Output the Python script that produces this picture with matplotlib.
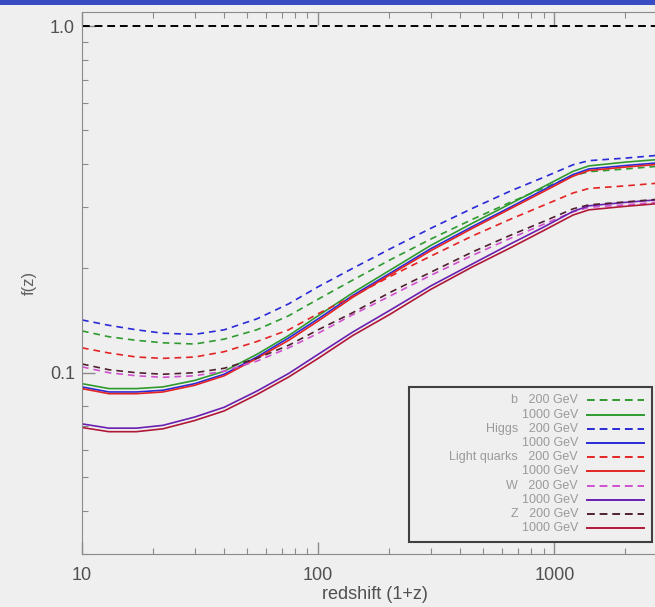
import numpy as np
import matplotlib
matplotlib.use("Agg")
import matplotlib.pyplot as plt
from matplotlib.patches import Rectangle
from matplotlib.ticker import NullFormatter, FixedLocator, LogLocator

plt.rcParams['font.family'] = ['Liberation Sans', 'DejaVu Sans']

# redshift (1+z) nodes
z = [10, 13, 17, 22, 30, 40, 55, 75, 100, 140, 200, 300, 450, 650, 900, 1200, 1400, 2000, 3000]

# f(z)
b200 = [0.132, 0.127, 0.124, 0.122, 0.121, 0.125, 0.133, 0.146, 0.163, 0.185, 0.211, 0.243, 0.277, 0.310, 0.341, 0.370, 0.380, 0.387, 0.396]
b1000 = [0.093, 0.090, 0.090, 0.091, 0.095, 0.101, 0.113, 0.128, 0.146, 0.170, 0.197, 0.233, 0.270, 0.307, 0.344, 0.381, 0.395, 0.405, 0.414]
higgs200 = [0.142, 0.137, 0.133, 0.130, 0.129, 0.133, 0.143, 0.158, 0.177, 0.200, 0.227, 0.261, 0.298, 0.334, 0.366, 0.398, 0.409, 0.416, 0.426]
higgs1000 = [0.091, 0.088, 0.088, 0.089, 0.093, 0.099, 0.111, 0.126, 0.143, 0.167, 0.193, 0.228, 0.264, 0.300, 0.337, 0.373, 0.387, 0.396, 0.405]
lq200 = [0.118, 0.114, 0.111, 0.110, 0.111, 0.115, 0.123, 0.133, 0.148, 0.166, 0.189, 0.217, 0.248, 0.277, 0.304, 0.330, 0.340, 0.346, 0.354]
lq1000 = [0.090, 0.087, 0.087, 0.088, 0.092, 0.098, 0.110, 0.124, 0.141, 0.165, 0.191, 0.225, 0.261, 0.297, 0.333, 0.369, 0.383, 0.392, 0.401]
w200 = [0.104, 0.100, 0.098, 0.097, 0.098, 0.101, 0.108, 0.118, 0.130, 0.147, 0.166, 0.191, 0.218, 0.244, 0.268, 0.291, 0.300, 0.305, 0.312]
w1000 = [0.0712, 0.0692, 0.0692, 0.0705, 0.0745, 0.0795, 0.0885, 0.0995, 0.113, 0.131, 0.151, 0.178, 0.206, 0.235, 0.263, 0.292, 0.303, 0.310, 0.317]
z200 = [0.106, 0.102, 0.100, 0.099, 0.100, 0.103, 0.110, 0.120, 0.133, 0.149, 0.170, 0.195, 0.223, 0.249, 0.273, 0.297, 0.305, 0.311, 0.318]
z1000 = [0.0695, 0.0676, 0.0676, 0.0689, 0.0728, 0.0776, 0.0865, 0.0972, 0.110, 0.128, 0.147, 0.174, 0.202, 0.229, 0.257, 0.285, 0.295, 0.302, 0.309]

labels = ["b   200 GeV", "1000 GeV", "Higgs   200 GeV", "1000 GeV",
          "Light quarks   200 GeV", "1000 GeV", "W   200 GeV", "1000 GeV",
          "Z   200 GeV", "1000 GeV"]
series = [b200, b1000, higgs200, higgs1000, lq200, lq1000, w200, w1000, z200, z1000]
colors = ['#2f9a2f', '#2f9a2f', '#2a2ad8', '#2a2ad8', '#e42424', '#e42424',
          '#d050d0', '#6a20b0', '#502030', '#b01838']
dashed = [True, False] * 5

W, H = 655, 607
fig = plt.figure(figsize=(W / 100, H / 100), dpi=100, facecolor='#efefef')
# blue band along the top edge of the slide
fig.patches.append(Rectangle((0, 1 - 5 / H), 1, 5 / H, transform=fig.transFigure,
                             facecolor='#3a4cc4', edgecolor='none'))

ax = fig.add_axes([82 / W, (H - 554) / H, 585 / W, 542.3 / H])
ax.set_facecolor('#efefef')
ax.set_xscale('log')
ax.set_yscale('log')
ax.set_xlim(10, 3000)
ax.set_ylim(0.03, 1.1)

ax.axhline(1.0, color='black', lw=1.4, ls=(0, (4, 2.5)))

for ys, c, d in zip(series, colors, dashed):
    ax.plot(z, ys, color=c, lw=1.2, ls=(0, (4, 3)) if d else '-')

ax.xaxis.set_major_locator(FixedLocator([10, 100, 1000]))
ax.set_xticklabels(['10', '100', '1000'])
ax.xaxis.set_minor_locator(LogLocator(base=10, subs=np.arange(2, 10)))
ax.xaxis.set_minor_formatter(NullFormatter())
ax.yaxis.set_major_locator(FixedLocator([0.1, 1.0]))
ax.set_yticklabels(['0.1', '1.0'])
ax.yaxis.set_minor_locator(LogLocator(base=10, subs=np.arange(2, 10)))
ax.yaxis.set_minor_formatter(NullFormatter())

ax.tick_params(which='both', direction='in', top=True, right=False,
               colors='#8a8a8a', labelcolor='#505050', labelsize=13)
ax.tick_params(which='major', length=9, width=1)
ax.tick_params(which='minor', length=4, width=0.8)
ax.tick_params(axis='y', pad=5)
ax.tick_params(axis='x', pad=9)
for s in ['left', 'bottom', 'top']:
    ax.spines[s].set_color('#8a8a8a')
ax.spines['right'].set_visible(False)

ax.set_xlabel('redshift (1+z)', fontsize=13, color='#505050', labelpad=2)
ax.set_ylabel('f(z)', fontsize=12, color='#606060')
ax.yaxis.set_label_coords(-0.077, 0.5)

# legend box, labels right aligned with line samples on the right
ax.add_patch(Rectangle((0.5594, 0.0221), 0.4156, 0.2859, transform=ax.transAxes,
                       facecolor='none', edgecolor='#404040', lw=1.5, zorder=5))
y0, dy = 0.2832, 0.02619
for i, (lab, c, d) in enumerate(zip(labels, colors, dashed)):
    yy = y0 - i * dy
    ax.text(0.848, yy, lab, transform=ax.transAxes, ha='right', va='center',
            fontsize=9, color='#9a9a9a', zorder=6)
    ax.plot([0.864, 0.96], [yy, yy], transform=ax.transAxes, color=c, lw=1.4,
            ls=(0, (4, 2.5)) if d else '-', zorder=6, clip_on=False)

fig.savefig('out.png', dpi=100, facecolor=fig.get_facecolor())
